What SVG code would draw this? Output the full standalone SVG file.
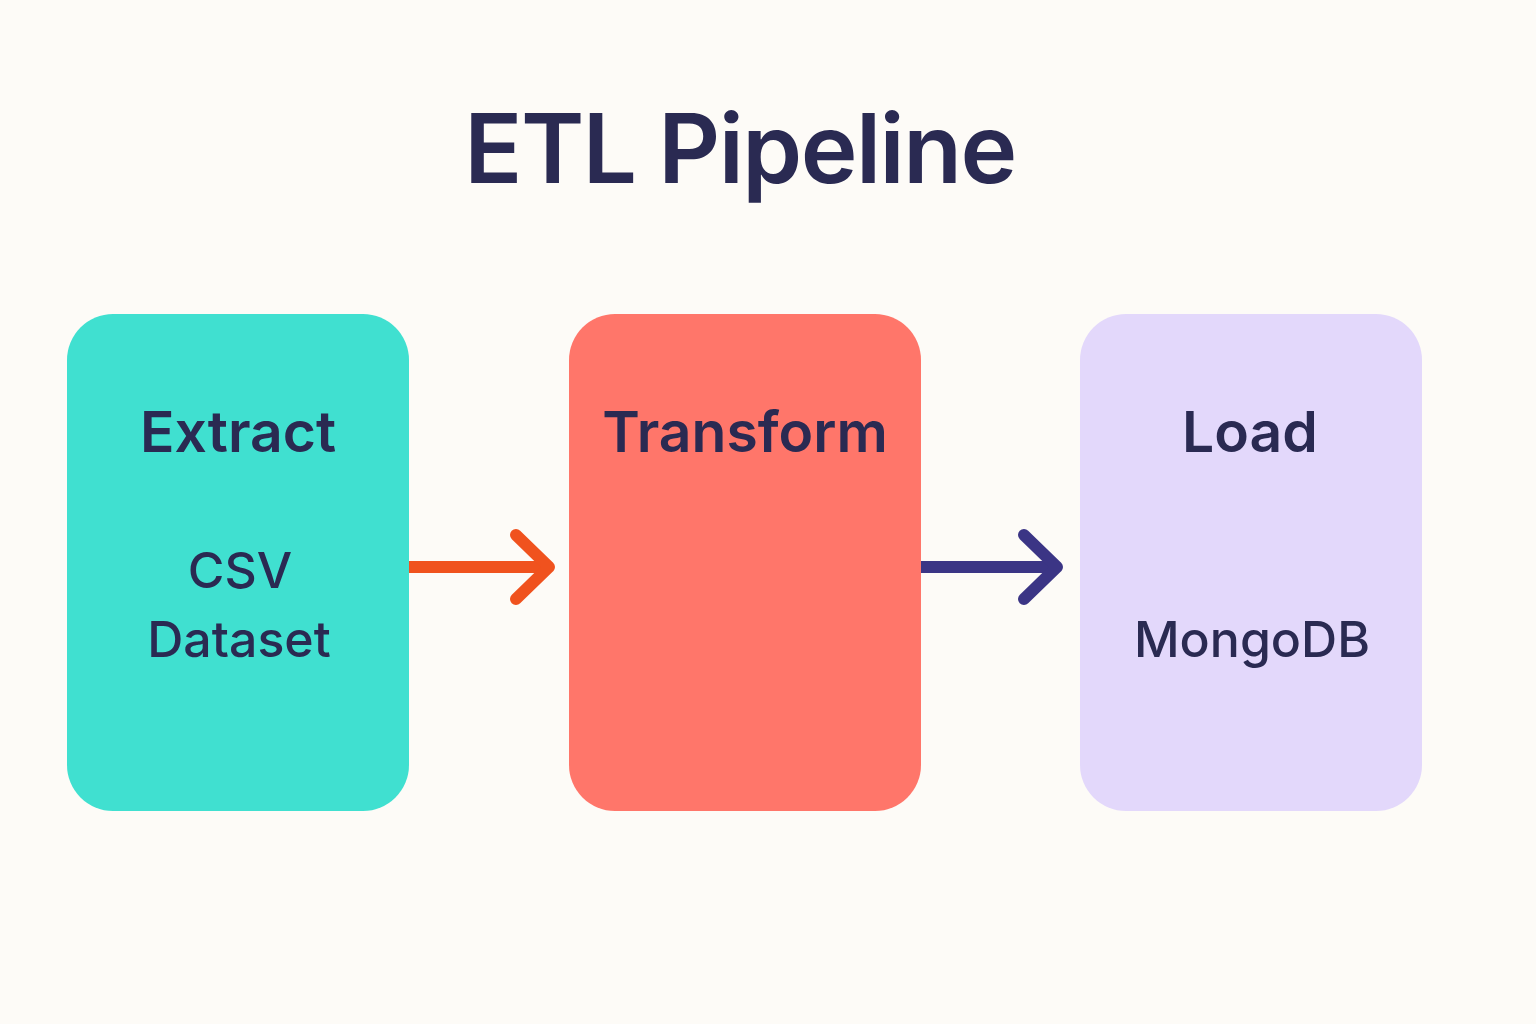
<svg xmlns="http://www.w3.org/2000/svg" width="1536" height="1024" viewBox="0 0 1536 1024">
<style>
.t{font-family:Inter,"Open Sans","Liberation Sans",sans-serif;fill:#2A2A52;text-anchor:middle}
.h{font-size:57px;font-weight:600}
.s{font-size:50px;font-weight:500}
.c{fill:none;stroke-width:12;stroke-linejoin:round}
.c polyline{stroke-linecap:round}
</style>
<rect width="1536" height="1024" fill="#FDFBF7"/>
<text id="title" class="t" x="740" y="183" font-size="96" font-weight="600" letter-spacing="-1.5">ETL Pipeline</text>
<g id="extract">
<rect x="67" y="314" width="342" height="497" rx="46" fill="#40E0D0"/>
<text class="t h" x="238" y="452">Extract</text>
<text class="t s" x="240" y="588">CSV</text>
<text class="t s" x="239" y="657">Dataset</text>
</g>
<g id="transform">
<rect x="569" y="314" width="352" height="497" rx="46" fill="#FF766A"/>
<text class="t h" x="745" y="452">Transform</text>
</g>
<g id="load">
<rect x="1080" y="314" width="342" height="497" rx="46" fill="#E3D8FB"/>
<text class="t h" x="1250" y="452">Load</text>
<text class="t s" x="1252" y="657">MongoDB</text>
</g>
<g id="connectors">
<g stroke="#F0521E" class="c">
<line x1="409" y1="567" x2="546" y2="567"/>
<polyline points="516,535 549,567 516,599"/>
</g>
<g stroke="#3B3585" class="c">
<line x1="921" y1="567" x2="1054" y2="567"/>
<polyline points="1024,535 1057,567 1024,599"/>
</g>
</g>
</svg>
